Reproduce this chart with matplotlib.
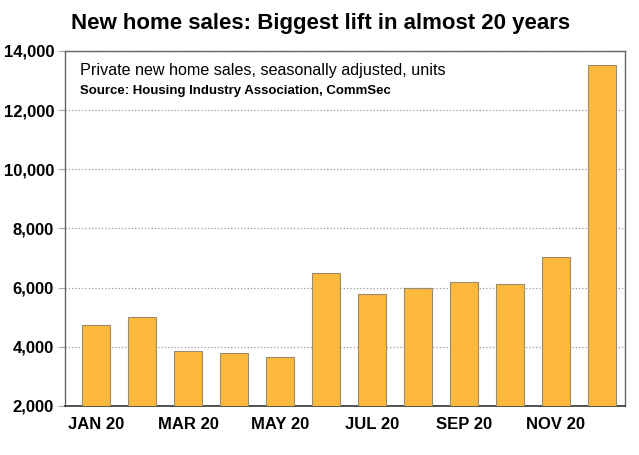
import numpy as np
import matplotlib.pyplot as plt

plt.rcParams['font.family'] = ['Liberation Sans', 'DejaVu Sans']

months = ["JAN 20", "FEB 20", "MAR 20", "APR 20", "MAY 20", "JUN 20",
          "JUL 20", "AUG 20", "SEP 20", "OCT 20", "NOV 20", "DEC 20"]
sales = [4720, 5020, 3850, 3800, 3650, 6480, 5780, 5980, 6200, 6130, 7050, 13530]
yticks = [2000, 4000, 6000, 8000, 10000, 12000, 14000]

fig = plt.figure(figsize=(6.39, 4.55), dpi=100)
ax = fig.add_axes([0.102, 0.108, 0.876, 0.78])

x = np.arange(len(months))
ax.bar(x, sales, width=0.6, bottom=0, color='#FDB93B', edgecolor='#9a8a70', linewidth=0.8, zorder=3)

ax.set_ylim(2000, 14000)
ax.set_xlim(-0.67, 11.5)
ax.set_yticks(yticks)
ax.set_yticklabels([f"{v:,}" for v in yticks], fontsize=12, fontweight='bold')
ax.set_xticks(x[::2])
ax.set_xticklabels(months[::2], fontsize=12, fontweight='bold')
ax.tick_params(axis='x', length=0, pad=8)
ax.tick_params(axis='y', length=5, color='#aaaaaa', pad=3)

ax.grid(axis='y', linestyle=':', color='#999999', linewidth=0.9, zorder=0)
for s in ['left', 'top', 'right']:
    ax.spines[s].set_color('#666666')
    ax.spines[s].set_linewidth(1.0)
ax.spines['bottom'].set_color('#333333')
ax.spines['bottom'].set_linewidth(1.2)

fig.text(0.502, 0.948, "New home sales: Biggest lift in almost 20 years",
         ha='center', va='center', fontsize=16, fontweight='bold')
ax.text(0.026, 0.965, "Private new home sales, seasonally adjusted, units",
        transform=ax.transAxes, ha='left', va='top', fontsize=11.6)
ax.text(0.026, 0.905, "Source: Housing Industry Association, CommSec",
        transform=ax.transAxes, ha='left', va='top', fontsize=9.5, fontweight='bold')

fig.savefig("out.png", dpi=100)
